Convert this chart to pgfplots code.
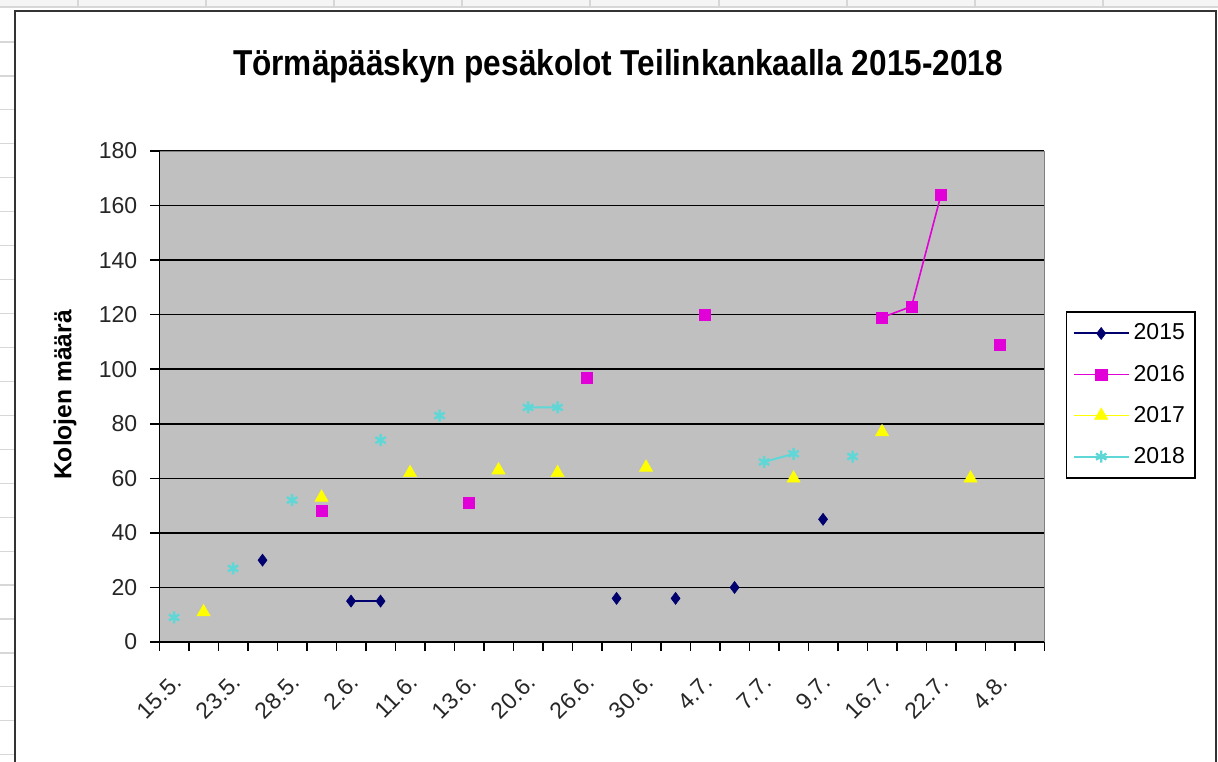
\documentclass[border=0pt]{standalone}
\usepackage{fontspec}
\setmainfont{Liberation Sans}
\usepackage{pgfplots}
\pgfplotsset{compat=1.18}
\usepackage{pgfplotstable}

\definecolor{plotgray}{RGB}{192,192,192}
\definecolor{c15}{RGB}{0,0,110}
\definecolor{c16}{RGB}{225,0,215}
\definecolor{c17}{RGB}{255,255,0}
\definecolor{c18}{RGB}{95,215,215}
\definecolor{sheetgrid}{RGB}{215,215,215}

\pgfplotstableread{
x y2015 y2016 y2017 y2018
0 nan nan nan 9
1 nan nan 11 nan
2 nan nan nan 27
3 30 nan nan nan
4 nan nan nan 52
5 nan 48 53 nan
6 15 nan nan nan
7 15 nan nan 74
8 nan nan 62 nan
9 nan nan nan 83
10 nan 51 nan nan
11 nan nan 63 nan
12 nan nan nan 86
13 nan nan 62 86
14 nan 97 nan nan
15 16 nan nan nan
16 nan nan 64 nan
17 16 nan nan nan
18 nan 120 nan nan
19 20 nan nan nan
20 nan nan nan 66
21 nan nan 60 69
22 45 nan nan nan
23 nan nan nan 68
24 nan 119 77 nan
25 nan 123 nan nan
26 nan 164 nan nan
27 nan nan 60 nan
28 nan 109 nan nan
}\data

\begin{document}
\begin{tikzpicture}[x=0.5pt,y=0.5pt]
\useasboundingbox (0,0) rectangle (1218,761);
\fill[white] (0,0) rectangle (1218,761);
% spreadsheet background
\fill[black!4] (0,753) rectangle (1218,761);
\draw[sheetgrid, line width=0.6pt] (0,754) -- (1218,754);
\foreach \xx in {78,206,334,462,590,719,847,975,1103} {\draw[sheetgrid, line width=0.6pt] (\xx,754) -- (\xx,761);}
\foreach \k in {0,...,21} {\draw[sheetgrid, line width=0.6pt] (0,{761-42-33.94*\k}) -- (14,{761-42-33.94*\k});}
% chart frame
\draw[line width=1.2pt, black!80] (15,-20) -- (15,750) -- (1216,750) -- (1216,-20);
% title
\node[anchor=base, inner sep=0pt] at (618,685) {\scalebox{0.877}[1]{\fontsize{18}{18}\selectfont\bfseries Törmäpääskyn pesäkolot Teilinkankaalla 2015-2018}};
% y label
\node[rotate=90, inner sep=0pt] at (65,366) {\fontsize{12.3}{12}\selectfont\bfseries Kolojen määrä};

\begin{axis}[
  at={(79.65pt,59.5pt)}, anchor=south west,
  scale only axis, width=442.5pt, height=245.5pt,
  xmin=-0.5, xmax=29.5, ymin=0, ymax=180,
  axis background/.style={fill=plotgray},
  axis line style={draw=black!50, line width=0.5pt},
  ytick={0,20,...,180},
  ytick pos=left, xtick pos=bottom,
  tick align=outside,
  major tick length=4.5pt,
  tick style={draw=none},
  xtick={0,2,...,28},
  xticklabels={15.5.,23.5.,28.5.,2.6.,11.6.,13.6.,20.6.,26.6.,30.6.,4.7.,7.7.,9.7.,16.7.,22.7.,4.8.},
  ymajorgrids,
  major grid style={black, line width=0.8pt},
  /pgf/number format/assume math mode=true,
  ticklabel style={font=\fontsize{11.5}{12}\selectfont, text=black!85},
  xticklabel style={rotate=45, anchor=east, xshift=-5pt, yshift=-11pt},
  yticklabel style={xshift=-3pt},
  unbounded coords=jump,
  legend style={at={(1.0245,0.503)}, anchor=west, draw=black, line width=0.7pt, fill=white,
    font=\fontsize{11.5}{12}\selectfont, row sep=7pt, inner xsep=3pt, inner ysep=4pt},
  legend cell align=left,
  legend image code/.code={\draw[mark repeat=2,mark phase=2] plot coordinates {(0pt,0pt) (13.75pt,0pt) (27.5pt,0pt)};},
  after end axis/.code={
    \draw[black, line width=0.8pt] (rel axis cs:0,1) -- (rel axis cs:0,0) -- (rel axis cs:1,0);
    \foreach \i in {-0.5,0.5,...,29.5} {\draw[black, line width=0.8pt] (axis cs:\i,0) -- ++(0pt,-4.5pt);}
    \foreach \v in {0,20,...,180} {\draw[black, line width=0.8pt] (axis cs:-0.5,\v) -- ++(-4.5pt,0pt);}
  },
]
\addplot[c15, line width=1pt, mark=diamond*, mark size=3pt, mark options={fill=c15, draw=c15, line width=0.3pt}] table[x=x, y=y2015] {\data};
\addlegendentry{2015}
\addplot[c16, line width=0.8pt, mark=square*, mark size=2.8pt, mark options={fill=c16, draw=c16, line width=0.3pt}] table[x=x, y=y2016] {\data};
\addlegendentry{2016}
\addplot[c17, line width=0.8pt, mark=triangle*, mark size=3.8pt, mark options={fill=c17, draw=c17, line width=0.3pt}] table[x=x, y=y2017] {\data};
\addlegendentry{2017}
\addplot[c18, line width=1pt, mark=asterisk, mark size=3pt, mark options={draw=c18, line width=1.2pt}] table[x=x, y=y2018] {\data};
\addlegendentry{2018}
\end{axis}
\end{tikzpicture}
\end{document}
